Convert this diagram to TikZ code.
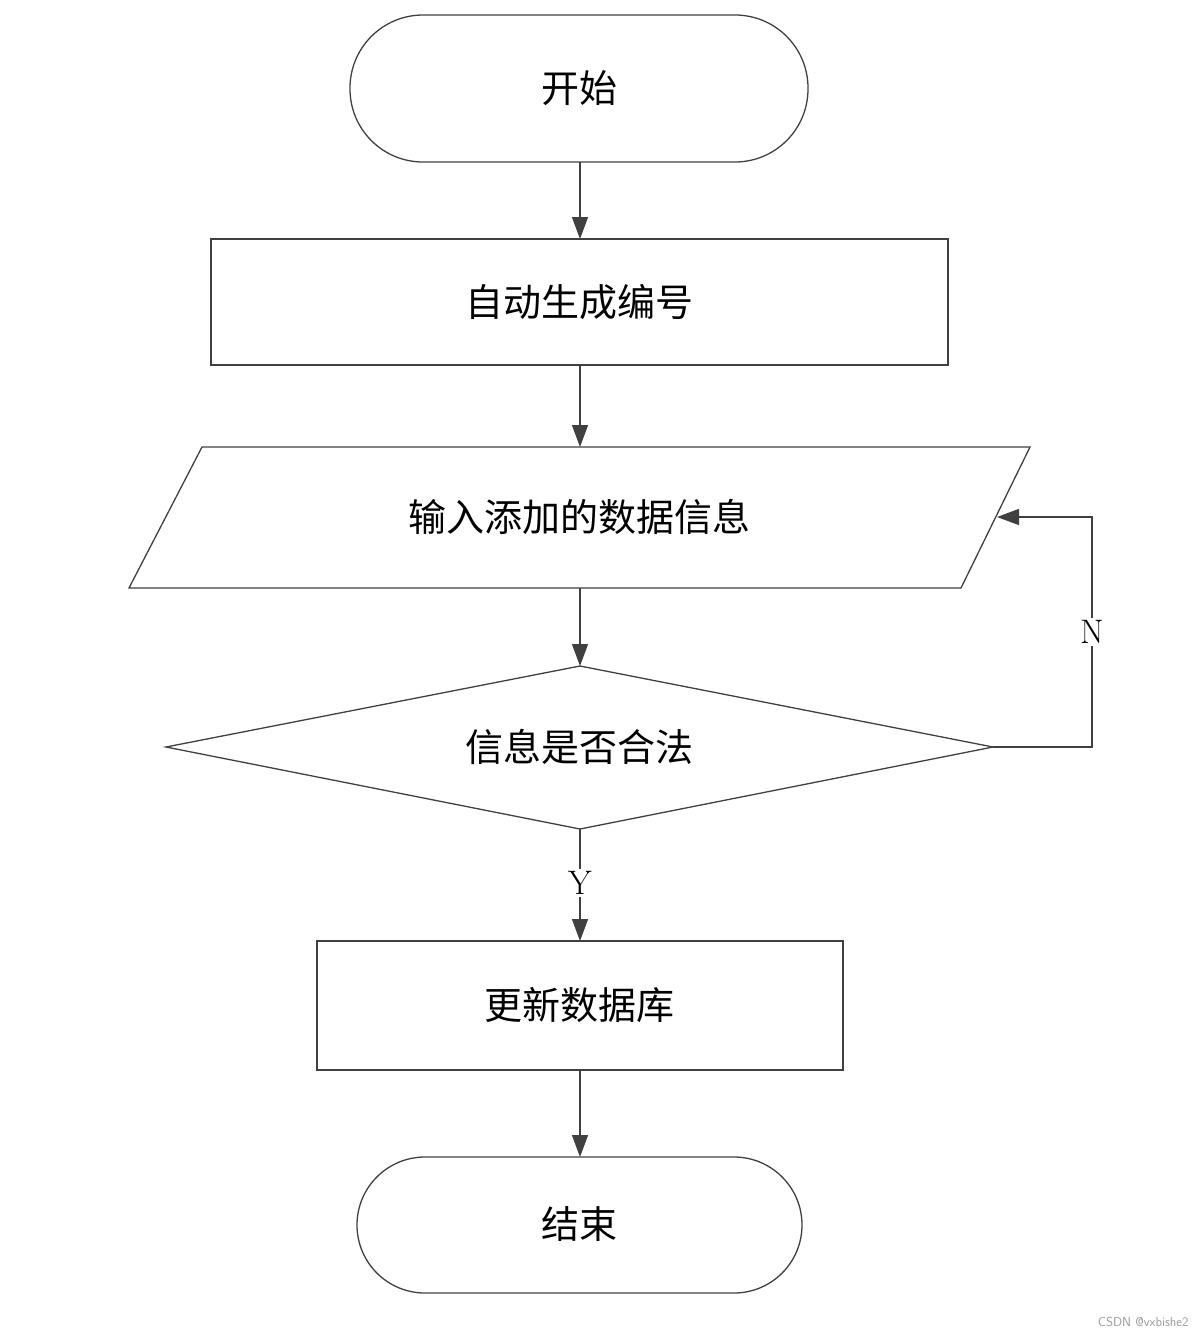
\documentclass[tikz,border=0pt]{standalone}
\usepackage{fontspec}
\newfontfamily\cjk{Noto Sans CJK SC}
\usetikzlibrary{arrows.meta}
\begin{document}
\begin{tikzpicture}[x=1pt,y=-1pt,
  box/.style={draw=black!75,line width=1.3pt},
  txt/.style={font=\cjk\fontsize{38}{40}\selectfont},
  arr/.style={draw=black!75,line width=1.5pt,-{Triangle[length=22pt,width=16pt]}},
  lbl/.style={font=\fontsize{34}{36}\selectfont,fill=white,inner sep=2pt}]
\useasboundingbox (0,0) rectangle (1200,1334);
\draw[box,rounded corners=73pt] (350,15) rectangle (808,162);
\node[txt] (s) at (579,88) {开始};
\draw[box] (211,239) rectangle (948,365);
\node[txt] (b1) at (579,302) {自动生成编号};
\draw[box] (202,447) -- (1030,447) -- (961,588) -- (129,588) -- cycle;
\node[txt] (p) at (579,517) {输入添加的数据信息};
\draw[box] (166,747) -- (580,666) -- (993,747) -- (580,829) -- cycle;
\node[txt] (d) at (579,747) {信息是否合法};
\draw[box] (317,941) rectangle (843,1070);
\node[txt] (b2) at (579,1005) {更新数据库};
\draw[box,rounded corners=68pt] (357,1157) rectangle (802,1293);
\node[txt] (e) at (579,1224) {结束};
\coordinate (c1) at (580,162); \coordinate (c1b) at (580,239);
\coordinate (c2) at (580,365); \coordinate (c2b) at (580,447);
\coordinate (c3) at (580,588); \coordinate (c3b) at (580,666);
\coordinate (c4) at (580,829); \coordinate (c4b) at (580,941);
\coordinate (c5) at (580,1070); \coordinate (c5b) at (580,1157);
\coordinate (r) at (993,747); \coordinate (rl) at (997,517);
\draw[arr] (c1) -- (c1b);
\draw[arr] (c2) -- (c2b);
\draw[arr] (c3) -- (c3b);
\draw[arr] (c4) -- (c4b);
\draw[arr] (c5) -- (c5b);
\draw[arr] (r) -- (1092,747) -- (1092,517) -- (rl);
\node[lbl] (n) at (1092,632) {N};
\node[lbl] (y) at (580,883) {Y};
\node[font=\sffamily\fontsize{13}{14}\selectfont,text=black!40,anchor=east] (w) at (1192,1322) {CSDN @vxbishe2};
\end{tikzpicture}
\end{document}
